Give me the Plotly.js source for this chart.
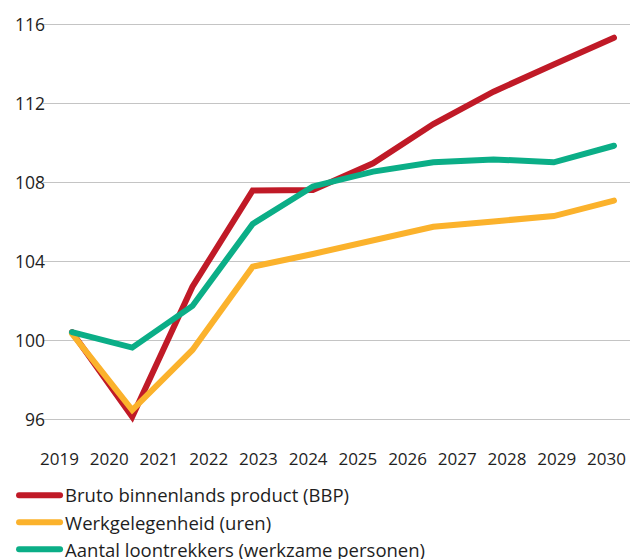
<!DOCTYPE html>
<html>
<head>
<meta charset="utf-8">
<script src="https://cdn.plot.ly/plotly-3.0.1.min.js"></script>
<style>
  html, body { margin: 0; padding: 0; background: #fff; }
  #chart { width: 630px; height: 559px; }
  .scatterlayer path.js-line, .legend path.js-line { stroke-linecap: round; }
</style>
</head>
<body>
<div id="chart"></div>
<script>
// Tick labels along the bottom axis
const years = ['2019','2020','2021','2022','2023','2024','2025','2026','2027','2028','2029','2030'];

// Series (10 observations each, index 0..9)
const pointIndex = [0,1,2,3,4,5,6,7,8,9];
const bbp = [100.42, 96.14, 102.72, 107.60, 107.62, 108.97, 110.96, 112.60, 113.98, 115.33];
const werkgelegenheid = [100.35, 96.48, 99.52, 103.74, 104.38, 105.05, 105.76, 106.03, 106.30, 107.08];
const loontrekkers = [100.42, 99.64, 101.75, 105.90, 107.80, 108.55, 109.02, 109.17, 109.02, 109.86];

const names = [
  'Bruto binnenlands product (BBP)',
  'Werkgelegenheid (uren)',
  'Aantal loontrekkers (werkzame personen)'
];
const colors = ['#c01a27', '#fbb22c', '#0bae87'];
const series = [bbp, werkgelegenheid, loontrekkers];

const traces = series.map((vals, k) => ({
  type: 'scatter',
  mode: 'lines',
  x: pointIndex,
  y: vals,
  name: names[k],
  legendgroup: 'g' + k,
  line: { color: colors[k], width: 6 },
  hoverinfo: 'skip',
  xaxis: 'x',
  yaxis: 'y'
}));

// invisible carrier trace for the year axis
traces.push({
  type: 'scatter',
  mode: 'lines',
  x: years.map((_, i) => i),
  y: years.map(() => null),
  showlegend: false,
  hoverinfo: 'skip',
  xaxis: 'x2',
  yaxis: 'y'
});

const font = { family: '"Open Sans", "Noto Sans", sans-serif', size: 17, color: '#1e1e1e' };
const legendFont = { family: '"Open Sans", "Noto Sans", sans-serif', size: 18.5, color: '#1e1e1e' };

const layout = {
  width: 630,
  height: 559,
  margin: { l: 43, r: 0, t: 20, b: 129, pad: 0, autoexpand: false },
  paper_bgcolor: '#ffffff',
  plot_bgcolor: '#ffffff',
  font: font,
  showlegend: true,
  legend: {
    orientation: 'v',
    x: -0.0493,
    xanchor: 'left',
    y: -0.114,
    yanchor: 'top',
    traceorder: 'grouped',
    tracegroupgap: 0,
    itemwidth: 41,
    font: legendFont,
    bgcolor: 'rgba(0,0,0,0)'
  },
  xaxis: {
    range: [-0.4816, 9.266],
    showgrid: false,
    zeroline: false,
    showline: false,
    showticklabels: false,
    ticks: '',
    fixedrange: true
  },
  xaxis2: {
    overlaying: 'x',
    side: 'bottom',
    anchor: 'y',
    range: [-0.3318, 11.473],
    tickmode: 'array',
    tickvals: years.map((_, i) => i),
    ticktext: years,
    showgrid: false,
    zeroline: false,
    showline: false,
    ticks: '',
    ticklabelstandoff: 17,
    tickfont: font,
    fixedrange: true
  },
  yaxis: {
    range: [95.468, 116.228],
    tickmode: 'array',
    tickvals: [96, 100, 104, 108, 112, 116],
    ticktext: ['96', '100', '104', '108', '112', '116'],
    showgrid: true,
    gridcolor: '#c4c4c4',
    gridwidth: 1.5,
    zeroline: false,
    showline: false,
    ticks: '',
    ticklabelstandoff: -3,
    tickfont: { family: font.family, size: 17.5, color: font.color },
    fixedrange: true
  }
};

Plotly.newPlot('chart', traces, layout, { displayModeBar: false, staticPlot: true });
</script>
</body>
</html>
